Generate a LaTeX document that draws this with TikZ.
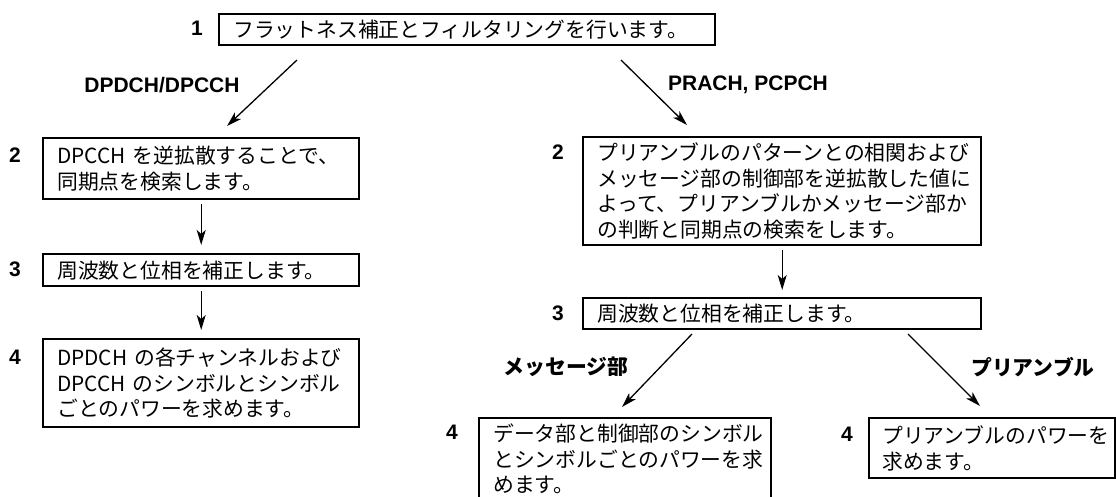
\documentclass[tikz,border=0pt]{standalone}
\usepackage{fontspec}
\setmainfont{Liberation Sans}
\newfontfamily\jp{Noto Sans CJK JP}
\usetikzlibrary{arrows.meta}
\begin{document}
\begin{tikzpicture}[x=1pt,y=-1pt,
  box/.style={draw, line width=2.4pt, anchor=north west, inner xsep=14pt, inner ysep=0pt,
    align=left, font=\jp\fontsize{20.8}{25.5}\selectfont},
  num/.style={font=\bfseries\fontsize{21}{25}\selectfont, inner sep=0pt},
  lab/.style={font=\bfseries\fontsize{21}{25}\selectfont, inner sep=0pt},
  jlab/.style={font=\jp\bfseries\fontsize{20.8}{25}\selectfont, inner sep=0pt},
  arr/.style={line width=1.3pt, -{Stealth[length=15pt,width=9pt,inset=4pt]}}]
\useasboundingbox (0,0) rectangle (1116,497);

% boxes
\node[box, minimum width=496, text width=468, minimum height=31] (b1) at (218,13)
  {フラットネス補正とフィルタリングを行います。};
\node[box, minimum width=316, text width=288, minimum height=61] (l2) at (42,137)
  {DPCCH を逆拡散することで、\\同期点を検索します。};
\node[box, minimum width=316, text width=288, minimum height=32] (l3) at (42,253)
  {周波数と位相を補正します。};
\node[box, minimum width=316, text width=288, minimum height=88] (l4) at (42,338)
  {DPDCH の各チャンネルおよび\\DPCCH のシンボルとシンボル\\ごとのパワーを求めます。};
\node[box, minimum width=398, text width=370, minimum height=108] (r2) at (582,136)
  {プリアンブルのパターンとの相関および\\メッセージ部の制御部を逆拡散した値に\\よって、プリアンブルかメッセージ部か\\の判断と同期点の検索をします。};
\node[box, minimum width=398, text width=370, minimum height=31] (r3) at (582,297)
  {周波数と位相を補正します。};
\node[box, minimum width=292, text width=264, minimum height=82] (r4a) at (478,417)
  {データ部と制御部のシンボル\\とシンボルごとのパワーを求\\めます。};
\node[box, minimum width=246, text width=220, inner xsep=13pt, minimum height=60] (r4b) at (868,417)
  {プリアンブルのパワーを\\求めます。};

% step numbers
\node[num] (n1) at (197,28) {1};
\node[num] (n2l) at (15,155) {2};
\node[num] (n3l) at (15,269) {3};
\node[num] (n4l) at (15,357) {4};
\node[num] (n2r) at (558,152) {2};
\node[num] (n3r) at (558,313) {3};
\node[num] (n4a) at (452,432) {4};
\node[num] (n4b) at (847,434) {4};

% branch labels
\node[lab] (tl) at (162,85) {DPDCH/DPCCH};
\node[lab] (tr) at (748,85) {PRACH, PCPCH};
\node[jlab] (tm) at (566,367) {メッセージ部};
\node[jlab] (tp) at (1033,367) {プリアンブル};

% connectors
\coordinate (a1s) at (297,60);
\coordinate (a1e) at (227,126);
\coordinate (a2s) at (621,60);
\coordinate (a2e) at (687,125);
\coordinate (a3s) at (692,334);
\coordinate (a3e) at (622,407);
\coordinate (a4s) at (908,334);
\coordinate (a4e) at (980,406);

\draw[arr] (a1s) -- (a1e);
\draw[arr] (a2s) -- (a2e);
\draw[arr, shorten <=4pt, shorten >=8pt] (l2.south) -- (l3.north);
\draw[arr, shorten <=4pt, shorten >=8pt] (l3.south) -- (l4.north);
\draw[arr, shorten <=4pt, shorten >=7pt] (r2.south) -- (r3.north);
\draw[arr] (a3s) -- (a3e);
\draw[arr] (a4s) -- (a4e);
\end{tikzpicture}
\end{document}
